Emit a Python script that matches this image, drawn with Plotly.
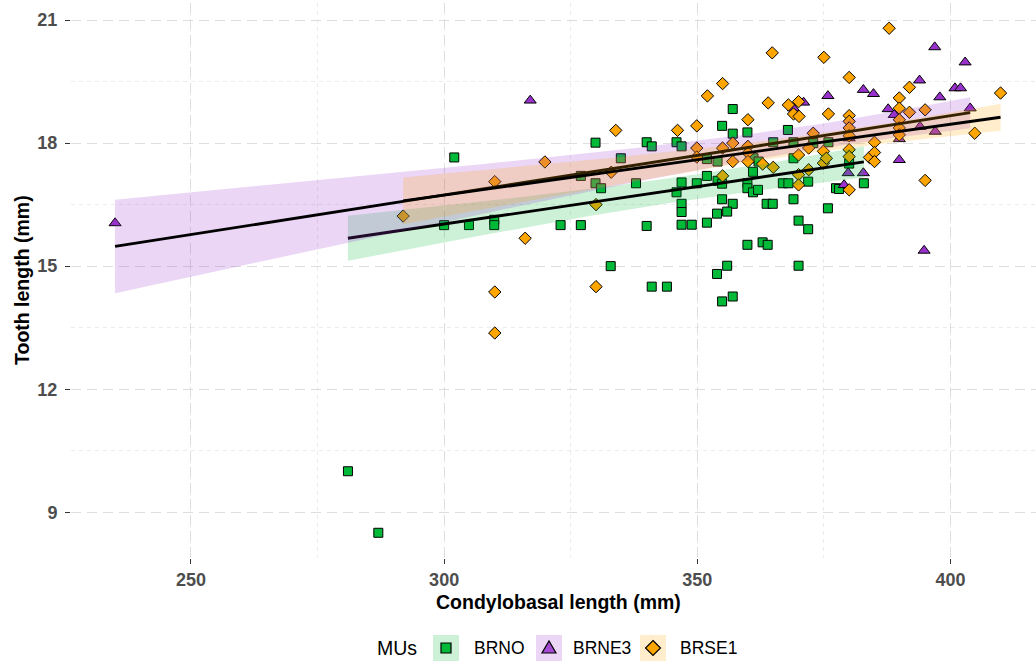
import numpy as np
import plotly.graph_objects as go

# ---- Measurements: condylobasal length (mm) vs tooth length (mm), by MU ----
brno_cbl = [281.0, 287.0, 300.0, 302.0, 304.9, 309.9, 309.9, 323.0, 327.0, 327.0,
            329.9, 329.9, 331.0, 332.9, 334.9, 337.9, 340.0, 341.0, 345.9, 346.9,
            351.9, 354.9, 357.0, 359.9, 367.9, 357.0, 354.0, 361.1, 362.1, 369.0,
            372.9, 369.0, 365.0, 371.9, 346.9, 349.9, 351.9, 354.0, 354.9, 345.9,
            359.9, 359.9, 361.0, 362.0, 361.0, 366.9, 368.0, 346.9, 346.9, 354.9,
            357.0, 353.9, 355.9, 351.9, 363.7, 364.9, 369.0, 375.8, 340.0, 346.9,
            348.9, 370.0, 371.9, 359.9, 362.9, 363.9, 355.9, 353.9, 370.0, 341.0,
            344.0, 354.9, 357.0, 375.9, 377.4, 382.9, 378.0, 380.0]
brno_tooth = [10.0, 8.5, 16.0, 17.65, 16.0, 16.13, 16.0, 16.0, 16.0, 17.2,
              18.01, 17.02, 16.9, 15.0, 17.63, 17.02, 18.02, 17.92, 18.02, 17.92,
              17.61, 18.42, 18.23, 18.26, 18.32, 18.83, 17.55, 17.63, 17.55, 17.63,
              18.0, 18.02, 18.02, 17.06, 17.04, 17.02, 17.2, 17.08, 17.01, 16.8,
              17.02, 16.9, 16.8, 16.86, 17.3, 17.02, 17.02, 16.52, 16.32, 16.63,
              16.52, 16.28, 16.33, 16.06, 16.52, 16.52, 16.63, 16.41, 15.98, 16.01,
              16.01, 16.11, 15.9, 15.52, 15.58, 15.52, 15.01, 14.81, 15.01, 14.5,
              14.5, 14.14, 14.26, 18.02, 16.9, 17.02, 16.88, 17.5]

brne3_cbl = [235.0, 317.0, 369.0, 371.0, 375.8, 396.9, 402.9, 393.9, 382.8, 384.8,
             400.9, 402.0, 397.9, 387.7, 388.9, 403.9, 380.0, 389.9, 394.0, 397.0,
             389.9, 379.8, 382.8, 379.0, 394.8]
brne3_tooth = [16.05, 19.04, 18.85, 18.99, 19.15, 20.34, 19.97, 19.53, 19.3, 19.2,
               19.34, 19.34, 19.12, 18.83, 18.69, 18.85, 18.12, 18.1, 18.4, 18.28,
               17.59, 17.27, 17.27, 16.98, 15.38]

brse1_cbl = [291.9, 310.0, 310.0, 310.0, 316.0, 319.9, 330.0, 330.0, 333.0, 333.9,
             346.1, 349.9, 349.9, 349.9, 352.0, 355.0, 355.0, 355.0, 357.0, 357.0,
             360.0, 360.0, 360.0, 360.0, 362.9, 364.0, 364.8, 365.0, 368.0, 369.0,
             370.0, 370.1, 370.0, 370.0, 370.0, 372.0, 372.9, 372.0, 374.9, 374.9,
             375.5, 375.0, 375.9, 380.0, 380.0, 380.0, 380.0, 380.0, 380.0, 380.0,
             380.0, 384.0, 385.0, 385.0, 385.0, 387.9, 389.9, 389.9, 389.9, 389.9,
             389.9, 391.9, 391.9, 395.0, 395.0, 404.8, 409.9]
brse1_tooth = [16.22, 17.06, 14.37, 13.37, 15.68, 17.54, 16.5, 14.5, 17.29, 18.31,
               18.31, 18.42, 17.88, 17.66, 19.15, 19.45, 17.88, 17.2, 18.0, 17.55,
               18.57, 17.92, 17.76, 17.55, 17.49, 18.98, 20.2, 17.41, 18.93, 18.71,
               19.01, 18.65, 17.71, 17.23, 16.98, 17.88, 18.24, 17.35, 17.8, 17.51,
               17.63, 20.09, 18.71, 19.6, 18.67, 18.53, 18.37, 18.18, 17.84, 17.67,
               16.86, 17.65, 18.02, 17.77, 17.55, 20.8, 19.1, 18.85, 18.57, 18.37,
               18.2, 19.36, 18.75, 18.81, 17.09, 18.24, 19.22]

# ---- Linear trend per MU (fitted value and 95% CI half-width) ----
# order: BRNO, BRNE3, BRSE1; "start"/"end" refer to the smallest/largest CBL of the MU
trend_start = [15.68, 15.48, 16.59]
trend_end = [17.54, 18.74, 18.63]
ci_half_start = [0.55, 1.14, 0.57]
ci_half_end = [0.38, 0.38, 0.33]
ci_half_min = [0.30, 0.30, 0.22]

mu_names = ["BRNO", "BRNE3", "BRSE1"]
mu_symbols = ["square", "triangle-up", "diamond"]
mu_colors = ["#00BA38", "#9932CC", "#FFA500"]
mu_sizes = [9, 10.5, 9.5]

x_ticks = [250, 300, 350, 400]
y_ticks = [9, 12, 15, 18, 21]
x_title = "Condylobasal length (mm)"
y_title = "Tooth length (mm)"
legend_title = "MUs"

groups = [(brno_cbl, brno_tooth), (brne3_cbl, brne3_tooth), (brse1_cbl, brse1_tooth)]


def rgba(hex_color, a):
    h = hex_color.lstrip("#")
    r, g, b = int(h[0:2], 16), int(h[2:4], 16), int(h[4:6], 16)
    return f"rgba({r},{g},{b},{a})"


def trend_band(x, y0, y1, h0, h1, hmin, n=100):
    """Straight trend line with a hyperbolic confidence band,
    hw(x)^2 = hmin^2 + b (x - c)^2, passing through the end half-widths."""
    x = np.asarray(x, float)
    x0, x1 = x.min(), x.max()
    a = hmin ** 2
    r = np.sqrt((h0 ** 2 - a) / (h1 ** 2 - a))
    c = (x0 + r * x1) / (1 + r)
    b = (h0 ** 2 - a) / (c - x0) ** 2
    xs = np.linspace(x0, x1, n)
    fit = y0 + (y1 - y0) * (xs - x0) / (x1 - x0)
    hw = np.sqrt(a + b * (xs - c) ** 2)
    return xs, fit, fit - hw, fit + hw


fig = go.Figure()

# points first, smoothers drawn over them
for (cx, ty), name, sym, col, sz in zip(groups, mu_names, mu_symbols, mu_colors, mu_sizes):
    fig.add_trace(go.Scatter(
        x=cx, y=ty, mode="markers", name=name, showlegend=False,
        marker=dict(symbol=sym, size=sz, color=col, line=dict(color="black", width=1)),
    ))

for i, ((cx, ty), name, col) in enumerate(zip(groups, mu_names, mu_colors)):
    xs, fit, lo, hi = trend_band(cx, trend_start[i], trend_end[i],
                                 ci_half_start[i], ci_half_end[i], ci_half_min[i])
    fig.add_trace(go.Scatter(
        x=np.concatenate([xs, xs[::-1]]), y=np.concatenate([hi, lo[::-1]]),
        mode="lines", fill="toself", fillcolor=rgba(col, 0.2),
        line=dict(width=0), hoverinfo="skip", showlegend=False,
    ))
    fig.add_trace(go.Scatter(
        x=xs, y=fit, mode="lines", line=dict(color="black", width=2.8),
        hoverinfo="skip", showlegend=False,
    ))

# ---- frame geometry (pixels) ----
W, H = 1036, 662
ML, MR, MT, MB = 71, 0, 3, 104
PW, PH = W - ML - MR, H - MT - MB


def pxx(px):
    return (px - ML) / PW


def pxy(py):
    return (H - MB - py) / PH


# ---- hand-built legend along the bottom ----
shapes = []
annotations = []
key_left = [433, 536, 640]
text_left = [472, 571, 678]
key_w, key_top, key_bot = 26, 635, 661
ky = 648
for i, (name, col) in enumerate(zip(mu_names, mu_colors)):
    x0 = key_left[i]
    shapes.append(dict(type="rect", xref="paper", yref="paper",
                       x0=pxx(x0), x1=pxx(x0 + key_w), y0=pxy(key_bot), y1=pxy(key_top),
                       fillcolor=rgba(col, 0.2), line=dict(width=0), layer="above"))
    cx = x0 + key_w / 2
    if mu_symbols[i] == "square":
        shapes.append(dict(type="rect", xref="paper", yref="paper",
                           x0=pxx(cx - 5), x1=pxx(cx + 5), y0=pxy(ky + 5), y1=pxy(ky - 5),
                           fillcolor=col, line=dict(color="black", width=1.2), layer="above"))
    elif mu_symbols[i] == "triangle-up":
        pts = [(cx - 7, ky + 5), (cx + 7, ky + 5), (cx, ky - 7)]
        path = "M" + " L".join(f"{pxx(a):.5f},{pxy(b):.5f}" for a, b in pts) + " Z"
        shapes.append(dict(type="path", xref="paper", yref="paper", path=path,
                           fillcolor=rgba(col, 0.85), line=dict(color="black", width=1.2),
                           layer="above"))
    else:
        pts = [(cx, ky - 7.5), (cx + 7.5, ky), (cx, ky + 7.5), (cx - 7.5, ky)]
        path = "M" + " L".join(f"{pxx(a):.5f},{pxy(b):.5f}" for a, b in pts) + " Z"
        shapes.append(dict(type="path", xref="paper", yref="paper", path=path,
                           fillcolor=col, line=dict(color="black", width=1.2), layer="above"))
    annotations.append(dict(text=name, xref="paper", yref="paper", x=pxx(text_left[i]),
                            y=pxy(ky), xanchor="left", yanchor="middle", showarrow=False,
                            font=dict(size=17.5, color="black")))

annotations.append(dict(text=legend_title, xref="paper", yref="paper", x=pxx(419), y=pxy(ky),
                        xanchor="right", yanchor="middle", showarrow=False,
                        font=dict(size=19.5, color="black")))

# axis titles
annotations.append(dict(text=f"<b>{x_title}</b>", xref="paper", yref="paper",
                        x=pxx(558), y=pxy(602), xanchor="center", yanchor="middle",
                        showarrow=False, font=dict(size=19.5, color="black")))
annotations.append(dict(text=f"<b>{y_title}</b>", xref="paper", yref="paper",
                        x=pxx(22), y=pxy(280), xanchor="center", yanchor="middle",
                        textangle=-90, showarrow=False, font=dict(size=19.5, color="black")))

major_grid = dict(gridcolor="#DEDEDE", gridwidth=1.4, griddash="10px,6px")
minor_grid = dict(showgrid=True, gridcolor="#EBEBEB", gridwidth=1, griddash="4px,4px", ticks="")

fig.update_layout(
    width=W, height=H,
    margin=dict(l=ML, r=MR, t=MT, b=MB, pad=0),
    paper_bgcolor="white", plot_bgcolor="white",
    font=dict(family="Liberation Sans, Arial, sans-serif"),
    showlegend=False,
    shapes=shapes, annotations=annotations,
    xaxis=dict(range=[226.3, 416.9], tickvals=x_ticks, zeroline=False, showline=False,
               ticks="outside", ticklen=5, tickwidth=1.4, tickcolor="#333333",
               tickfont=dict(size=18, color="#4D4D4D", family="Liberation Sans, Arial, sans-serif",
                             weight="bold"),
               minor=dict(dtick=25, tick0=225, **minor_grid), **major_grid),
    yaxis=dict(range=[7.885, 21.415], tickvals=y_ticks, zeroline=False, showline=False,
               ticks="outside", ticklen=5, tickwidth=1.4, tickcolor="#333333",
               ticklabelstandoff=4,
               tickfont=dict(size=18, color="#4D4D4D", family="Liberation Sans, Arial, sans-serif",
                             weight="bold"),
               minor=dict(dtick=3, tick0=7.5, **minor_grid), **major_grid),
)

fig.write_html("out.html")
